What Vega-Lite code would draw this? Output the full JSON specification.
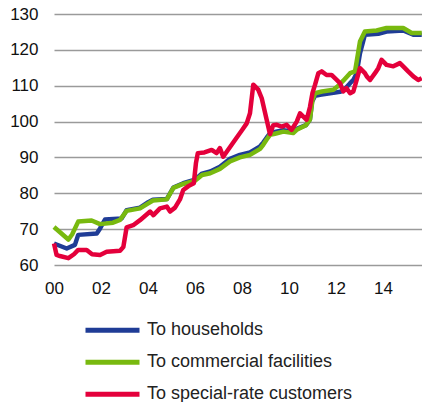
{
  "$schema": "https://vega.github.io/schema/vega-lite/v6.json",
  "autosize": {"type": "none"},
  "width": 368,
  "height": 251,
  "padding": {"left": 54, "top": 14, "right": 0, "bottom": 137},
  "background": "white",
  "config": {"view": {"stroke": null}, "font": "Liberation Sans"},
  "data": {"values": [
    {"t": 2000.0, "k": "To households", "v": 66},
    {"t": 2000.54, "k": "To households", "v": 64.6},
    {"t": 2000.89, "k": "To households", "v": 65.6},
    {"t": 2001.03, "k": "To households", "v": 68.4},
    {"t": 2001.82, "k": "To households", "v": 68.8},
    {"t": 2001.96, "k": "To households", "v": 70.2},
    {"t": 2002.17, "k": "To households", "v": 72.7},
    {"t": 2002.88, "k": "To households", "v": 73},
    {"t": 2003.09, "k": "To households", "v": 75.3},
    {"t": 2003.66, "k": "To households", "v": 76},
    {"t": 2004.01, "k": "To households", "v": 77.5},
    {"t": 2004.21, "k": "To households", "v": 78.2},
    {"t": 2004.8, "k": "To households", "v": 78.4},
    {"t": 2005.08, "k": "To households", "v": 81.6},
    {"t": 2005.5, "k": "To households", "v": 82.8},
    {"t": 2006.0, "k": "To households", "v": 83.8},
    {"t": 2006.3, "k": "To households", "v": 85.5},
    {"t": 2006.65, "k": "To households", "v": 86.1},
    {"t": 2007.06, "k": "To households", "v": 87.4},
    {"t": 2007.49, "k": "To households", "v": 89.6},
    {"t": 2007.91, "k": "To households", "v": 90.7},
    {"t": 2008.34, "k": "To households", "v": 91.4},
    {"t": 2008.77, "k": "To households", "v": 93.1},
    {"t": 2008.91, "k": "To households", "v": 94.2},
    {"t": 2009.05, "k": "To households", "v": 95.5},
    {"t": 2009.19, "k": "To households", "v": 96.7},
    {"t": 2009.4, "k": "To households", "v": 97.1},
    {"t": 2009.76, "k": "To households", "v": 97.6},
    {"t": 2010.18, "k": "To households", "v": 97.2},
    {"t": 2010.33, "k": "To households", "v": 98},
    {"t": 2010.72, "k": "To households", "v": 99},
    {"t": 2010.89, "k": "To households", "v": 100.5},
    {"t": 2010.98, "k": "To households", "v": 105.5},
    {"t": 2011.11, "k": "To households", "v": 107.2},
    {"t": 2011.32, "k": "To households", "v": 107.5},
    {"t": 2011.89, "k": "To households", "v": 108},
    {"t": 2012.17, "k": "To households", "v": 108.3},
    {"t": 2012.31, "k": "To households", "v": 108.6},
    {"t": 2012.6, "k": "To households", "v": 110.7},
    {"t": 2012.74, "k": "To households", "v": 111.6},
    {"t": 2012.88, "k": "To households", "v": 113.5},
    {"t": 2013.02, "k": "To households", "v": 119},
    {"t": 2013.23, "k": "To households", "v": 124.2},
    {"t": 2013.8, "k": "To households", "v": 124.5},
    {"t": 2014.15, "k": "To households", "v": 125.1},
    {"t": 2014.86, "k": "To households", "v": 125.4},
    {"t": 2015.29, "k": "To households", "v": 124.2},
    {"t": 2015.65, "k": "To households", "v": 124.2},

    {"t": 2000.0, "k": "To commercial facilities", "v": 70.6},
    {"t": 2000.61, "k": "To commercial facilities", "v": 67.1},
    {"t": 2000.77, "k": "To commercial facilities", "v": 68.5},
    {"t": 2001.03, "k": "To commercial facilities", "v": 72.1},
    {"t": 2001.6, "k": "To commercial facilities", "v": 72.4},
    {"t": 2001.96, "k": "To commercial facilities", "v": 71.4},
    {"t": 2002.51, "k": "To commercial facilities", "v": 71.8},
    {"t": 2002.81, "k": "To commercial facilities", "v": 72.6},
    {"t": 2003.09, "k": "To commercial facilities", "v": 75.1},
    {"t": 2003.66, "k": "To commercial facilities", "v": 75.8},
    {"t": 2004.01, "k": "To commercial facilities", "v": 77.2},
    {"t": 2004.21, "k": "To commercial facilities", "v": 78},
    {"t": 2004.8, "k": "To commercial facilities", "v": 78.3},
    {"t": 2005.08, "k": "To commercial facilities", "v": 81.5},
    {"t": 2005.5, "k": "To commercial facilities", "v": 82.6},
    {"t": 2006.0, "k": "To commercial facilities", "v": 83.5},
    {"t": 2006.3, "k": "To commercial facilities", "v": 85.1},
    {"t": 2006.65, "k": "To commercial facilities", "v": 85.6},
    {"t": 2007.06, "k": "To commercial facilities", "v": 86.8},
    {"t": 2007.49, "k": "To commercial facilities", "v": 88.9},
    {"t": 2007.91, "k": "To commercial facilities", "v": 90},
    {"t": 2008.34, "k": "To commercial facilities", "v": 90.7},
    {"t": 2008.77, "k": "To commercial facilities", "v": 92.4},
    {"t": 2008.91, "k": "To commercial facilities", "v": 93.6},
    {"t": 2009.05, "k": "To commercial facilities", "v": 95},
    {"t": 2009.19, "k": "To commercial facilities", "v": 96.3},
    {"t": 2009.4, "k": "To commercial facilities", "v": 96.6},
    {"t": 2009.76, "k": "To commercial facilities", "v": 97.2},
    {"t": 2010.18, "k": "To commercial facilities", "v": 96.8},
    {"t": 2010.33, "k": "To commercial facilities", "v": 97.7},
    {"t": 2010.72, "k": "To commercial facilities", "v": 99},
    {"t": 2010.89, "k": "To commercial facilities", "v": 100.5},
    {"t": 2011.0, "k": "To commercial facilities", "v": 106},
    {"t": 2011.11, "k": "To commercial facilities", "v": 107.9},
    {"t": 2011.4, "k": "To commercial facilities", "v": 108.4},
    {"t": 2011.89, "k": "To commercial facilities", "v": 108.9},
    {"t": 2012.1, "k": "To commercial facilities", "v": 110},
    {"t": 2012.31, "k": "To commercial facilities", "v": 111.4},
    {"t": 2012.6, "k": "To commercial facilities", "v": 113.5},
    {"t": 2012.81, "k": "To commercial facilities", "v": 114},
    {"t": 2012.95, "k": "To commercial facilities", "v": 119.5},
    {"t": 2013.02, "k": "To commercial facilities", "v": 122.3},
    {"t": 2013.23, "k": "To commercial facilities", "v": 125.1},
    {"t": 2013.73, "k": "To commercial facilities", "v": 125.4},
    {"t": 2014.15, "k": "To commercial facilities", "v": 126.1},
    {"t": 2014.86, "k": "To commercial facilities", "v": 126.1},
    {"t": 2015.22, "k": "To commercial facilities", "v": 124.7},
    {"t": 2015.65, "k": "To commercial facilities", "v": 124.7},

    {"t": 2000.0, "k": "To special-rate customers", "v": 66},
    {"t": 2000.11, "k": "To special-rate customers", "v": 62.8},
    {"t": 2000.25, "k": "To special-rate customers", "v": 62.5},
    {"t": 2000.61, "k": "To special-rate customers", "v": 61.9},
    {"t": 2000.85, "k": "To special-rate customers", "v": 63},
    {"t": 2001.03, "k": "To special-rate customers", "v": 64.2},
    {"t": 2001.39, "k": "To special-rate customers", "v": 64.2},
    {"t": 2001.62, "k": "To special-rate customers", "v": 63},
    {"t": 2001.96, "k": "To special-rate customers", "v": 62.8},
    {"t": 2002.24, "k": "To special-rate customers", "v": 63.7},
    {"t": 2002.81, "k": "To special-rate customers", "v": 64},
    {"t": 2002.95, "k": "To special-rate customers", "v": 65},
    {"t": 2003.09, "k": "To special-rate customers", "v": 70.5},
    {"t": 2003.37, "k": "To special-rate customers", "v": 71.1},
    {"t": 2003.66, "k": "To special-rate customers", "v": 72.5},
    {"t": 2004.09, "k": "To special-rate customers", "v": 74.9},
    {"t": 2004.23, "k": "To special-rate customers", "v": 73.9},
    {"t": 2004.51, "k": "To special-rate customers", "v": 75.8},
    {"t": 2004.8, "k": "To special-rate customers", "v": 76.3},
    {"t": 2004.94, "k": "To special-rate customers", "v": 74.9},
    {"t": 2005.15, "k": "To special-rate customers", "v": 76},
    {"t": 2005.36, "k": "To special-rate customers", "v": 78.3},
    {"t": 2005.5, "k": "To special-rate customers", "v": 80.9},
    {"t": 2005.72, "k": "To special-rate customers", "v": 82},
    {"t": 2005.95, "k": "To special-rate customers", "v": 82.8},
    {"t": 2006.04, "k": "To special-rate customers", "v": 88.4},
    {"t": 2006.12, "k": "To special-rate customers", "v": 91.2},
    {"t": 2006.4, "k": "To special-rate customers", "v": 91.4},
    {"t": 2006.71, "k": "To special-rate customers", "v": 92.1},
    {"t": 2006.92, "k": "To special-rate customers", "v": 91.2},
    {"t": 2007.06, "k": "To special-rate customers", "v": 92.6},
    {"t": 2007.2, "k": "To special-rate customers", "v": 90.2},
    {"t": 2007.35, "k": "To special-rate customers", "v": 91.6},
    {"t": 2007.5, "k": "To special-rate customers", "v": 93},
    {"t": 2007.77, "k": "To special-rate customers", "v": 95.5},
    {"t": 2007.99, "k": "To special-rate customers", "v": 97.5},
    {"t": 2008.2, "k": "To special-rate customers", "v": 99.5},
    {"t": 2008.34, "k": "To special-rate customers", "v": 102.3},
    {"t": 2008.48, "k": "To special-rate customers", "v": 110.3},
    {"t": 2008.69, "k": "To special-rate customers", "v": 108.9},
    {"t": 2008.84, "k": "To special-rate customers", "v": 106.5},
    {"t": 2009.05, "k": "To special-rate customers", "v": 100.5},
    {"t": 2009.19, "k": "To special-rate customers", "v": 96.5},
    {"t": 2009.33, "k": "To special-rate customers", "v": 99},
    {"t": 2009.48, "k": "To special-rate customers", "v": 99.1},
    {"t": 2009.69, "k": "To special-rate customers", "v": 98.6},
    {"t": 2009.9, "k": "To special-rate customers", "v": 99.1},
    {"t": 2010.11, "k": "To special-rate customers", "v": 97.7},
    {"t": 2010.33, "k": "To special-rate customers", "v": 100},
    {"t": 2010.47, "k": "To special-rate customers", "v": 102.3},
    {"t": 2010.61, "k": "To special-rate customers", "v": 101.4},
    {"t": 2010.75, "k": "To special-rate customers", "v": 100.5},
    {"t": 2010.89, "k": "To special-rate customers", "v": 104},
    {"t": 2011.0, "k": "To special-rate customers", "v": 108},
    {"t": 2011.11, "k": "To special-rate customers", "v": 110.3},
    {"t": 2011.25, "k": "To special-rate customers", "v": 113.5},
    {"t": 2011.39, "k": "To special-rate customers", "v": 114},
    {"t": 2011.6, "k": "To special-rate customers", "v": 113},
    {"t": 2011.81, "k": "To special-rate customers", "v": 113},
    {"t": 2012.03, "k": "To special-rate customers", "v": 111.6},
    {"t": 2012.17, "k": "To special-rate customers", "v": 110.7},
    {"t": 2012.31, "k": "To special-rate customers", "v": 108.4},
    {"t": 2012.45, "k": "To special-rate customers", "v": 109.3},
    {"t": 2012.6, "k": "To special-rate customers", "v": 107.9},
    {"t": 2012.74, "k": "To special-rate customers", "v": 108.4},
    {"t": 2012.88, "k": "To special-rate customers", "v": 111.6},
    {"t": 2013.02, "k": "To special-rate customers", "v": 114.9},
    {"t": 2013.23, "k": "To special-rate customers", "v": 113.5},
    {"t": 2013.31, "k": "To special-rate customers", "v": 112.6},
    {"t": 2013.45, "k": "To special-rate customers", "v": 111.6},
    {"t": 2013.66, "k": "To special-rate customers", "v": 113.5},
    {"t": 2013.8, "k": "To special-rate customers", "v": 114.9},
    {"t": 2013.94, "k": "To special-rate customers", "v": 117.2},
    {"t": 2014.15, "k": "To special-rate customers", "v": 115.8},
    {"t": 2014.44, "k": "To special-rate customers", "v": 115.4},
    {"t": 2014.72, "k": "To special-rate customers", "v": 116.3},
    {"t": 2014.86, "k": "To special-rate customers", "v": 115.4},
    {"t": 2015.07, "k": "To special-rate customers", "v": 114},
    {"t": 2015.29, "k": "To special-rate customers", "v": 112.6},
    {"t": 2015.5, "k": "To special-rate customers", "v": 111.6},
    {"t": 2015.65, "k": "To special-rate customers", "v": 112.1}
  ]},
  "mark": {"type": "line", "strokeWidth": 4.5, "strokeJoin": "round", "strokeCap": "butt", "clip": false},
  "encoding": {
    "x": {
      "field": "t", "type": "quantitative",
      "scale": {"domain": [2000, 2015.66], "nice": false, "zero": false},
      "axis": {
        "title": null, "values": [2000, 2002, 2004, 2006, 2008, 2010, 2012, 2014],
        "labelExpr": "format(datum.value - 2000, '02d')",
        "grid": false, "ticks": false, "domain": false,
        "labelFlush": false, "labelOverlap": false,
        "labelFontSize": 17, "labelColor": "#111", "labelPadding": 15,
        "labelFont": "Liberation Sans"
      }
    },
    "y": {
      "field": "v", "type": "quantitative",
      "scale": {"domain": [60, 130], "nice": false, "zero": false},
      "axis": {
        "title": null, "values": [60, 70, 80, 90, 100, 110, 120, 130],
        "grid": true, "gridColor": "#9a9a9a", "gridWidth": 1.5,
        "ticks": false, "domain": false,
        "labelFontSize": 17, "labelColor": "#111", "labelPadding": 16,
        "labelFont": "Liberation Sans"
      }
    },
    "color": {
      "field": "k", "type": "nominal",
      "scale": {
        "domain": ["To households", "To commercial facilities", "To special-rate customers"],
        "range": ["#1f3c96", "#78b90f", "#e4003b"]
      },
      "legend": {
        "title": null, "orient": "none", "legendX": 29, "legendY": 300.6,
        "direction": "vertical",
        "symbolType": "stroke", "symbolSize": 2916, "symbolStrokeWidth": 5,
        "labelFontSize": 18, "labelColor": "#222", "labelFont": "Liberation Sans",
        "labelLimit": 400, "clipHeight": 31.3,
        "labelOffset": 5, "rowPadding": 0, "padding": 0
      }
    }
  }
}
